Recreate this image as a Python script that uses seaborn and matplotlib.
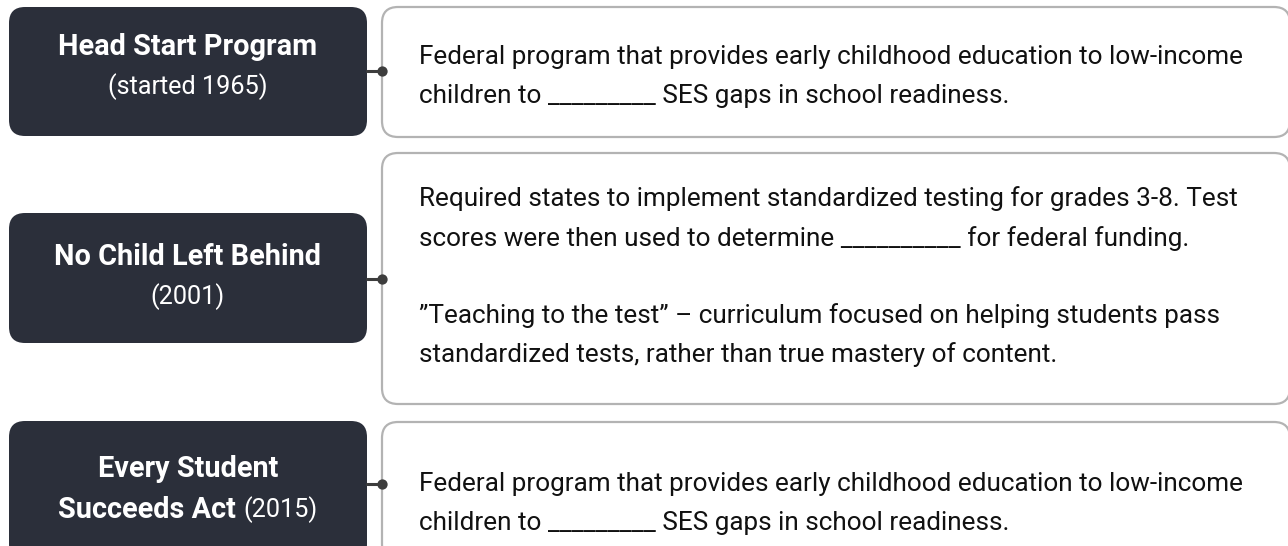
"""
Policy timeline diagram: dark label boxes with connected description panels
"""

import matplotlib
matplotlib.use("Agg")
import matplotlib.pyplot as plt
from matplotlib.patches import FancyBboxPatch
from matplotlib import font_manager
import seaborn as sns

sns.set_theme(style="white")

# --- content ---
titles = ["Head Start Program", "No Child Left Behind", "Every Student"]
title_tails = ["", "", "Succeeds Act"]
subtitles = ["(started 1965)", "(2001)", "(2015)"]
descriptions = [
    ["Federal program that provides early childhood education to low-income",
     "children to _________ SES gaps in school readiness."],
    ["Required states to implement standardized testing for grades 3-8. Test",
     "scores were then used to determine __________ for federal funding.",
     "",
     "\u201dTeaching to the test\u201d \u2013 curriculum focused on helping students pass",
     "standardized tests, rather than true mastery of content."],
    ["Federal program that provides early childhood education to low-income",
     "children to _________ SES gaps in school readiness."],
]

# --- layout (pixels) ---
W, H = 1288, 546
left_boxes = [(9, 7, 136), (9, 213, 343), (9, 421, 560)]   # x, top, bottom
right_boxes = [(382, 7, 137), (382, 153, 404), (382, 422, 560)]
left_w = 358
right_w = 908
dots_y = [71, 279, 484]
desc_y = [[57, 96], [199, 239, None, 316, 355], [484, 523]]
title_y = [[47, 87], [257, 297], [469, 510]]

DARK = "#2b2f3a"
BORDER = "#b3b3b3"
DOT = "#3d3d3d"
TEXT = "#111111"

avail = {f.name for f in font_manager.fontManager.ttflist}
base = "Liberation Sans Narrow" if "Liberation Sans Narrow" in avail else "Roboto"
FAM = [base, "DejaVu Sans"]
plt.rcParams["font.family"] = FAM

fig = plt.figure(figsize=(W / 100, H / 100), dpi=100)
ax = fig.add_axes([0, 0, 1, 1])
ax.set_xlim(0, W)
ax.set_ylim(H, 0)
ax.axis("off")
fig.canvas.draw()
renderer = fig.canvas.get_renderer()


def text_width(s, size, weight="normal"):
    t = ax.text(0, 0, s, fontsize=size, fontweight=weight)
    w = t.get_window_extent(renderer).width
    t.remove()
    return w


def fit_size(s, target, weight="normal"):
    return 20 * target / text_width(s, 20, weight)


body_size = fit_size(descriptions[0][0], 822)
title_size = fit_size(titles[0], 258, "bold")
sub_size = fit_size(subtitles[0], 160)

for i in range(3):
    x, top, bot = left_boxes[i]
    ax.add_patch(FancyBboxPatch((x, top), left_w, bot - top,
                                boxstyle="round,pad=0,rounding_size=16",
                                fc=DARK, ec="none", zorder=1))
    rx, rtop, rbot = right_boxes[i]
    ax.add_patch(FancyBboxPatch((rx, rtop), right_w, rbot - rtop,
                                boxstyle="round,pad=0,rounding_size=16",
                                fc="white", ec=BORDER, lw=1.6, zorder=1))
    # connector
    ax.plot([x + left_w, rx], [dots_y[i], dots_y[i]], color=DOT, lw=2.2, zorder=2)
    ax.scatter([rx], [dots_y[i]], s=55, color=DOT, zorder=3, linewidths=0)

    cx = x + left_w / 2
    ty, sy = title_y[i]
    ax.text(cx, ty, titles[i], color="white", fontsize=title_size,
            fontweight="bold", ha="center", va="center")
    if title_tails[i]:
        part1 = title_tails[i] + " "
        w1 = text_width(part1, title_size, "bold")
        w2 = text_width(subtitles[i], sub_size)
        x0 = cx - (w1 + w2) / 2
        ax.text(x0, sy, part1, color="white", fontsize=title_size,
                fontweight="bold", ha="left", va="center")
        ax.text(x0 + w1, sy, subtitles[i], color="white", fontsize=sub_size,
                ha="left", va="center")
    else:
        ax.text(cx, sy, subtitles[i], color="white", fontsize=sub_size,
                ha="center", va="center")

    for line, ly in zip(descriptions[i], desc_y[i]):
        if line and ly is not None:
            ax.text(419, ly, line, color=TEXT, fontsize=body_size,
                    ha="left", va="center")

fig.savefig("out.png", dpi=100, facecolor="white")
